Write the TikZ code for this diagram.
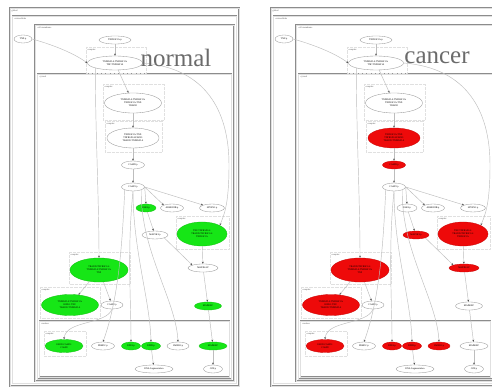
\documentclass[tikz,border=0pt]{standalone}
\usepackage{fontspec}
\setmainfont{Liberation Serif}
\usepackage{tikz}
\usetikzlibrary{arrows.meta,shapes.geometric,calc}
\definecolor{hitgreen}{HTML}{16E616}
\definecolor{hitred}{HTML}{EE0A0A}
\definecolor{frame}{HTML}{8C8C8C}
\definecolor{edgegray}{HTML}{BDBDBD}
\tikzset{
  compbox/.style={draw=frame, line width=0.45pt, double=black!12, double distance=0.5pt},
  cplxbox/.style={draw=black!12, densely dotted, line width=0.3pt},
  complabel/.style={anchor=north west, inner sep=0.5pt,
    font=\fontsize{2.3}{2.7}\selectfont, text=black!70},
  species/.style={
    ellipse, draw=black!40, fill=white, line width=0.35pt,
    minimum width=#1, minimum height=8, inner sep=0pt,
    font=\fontsize{2.4}{2.8}\selectfont, align=center
  },
  species/.default=22,
  link/.style={
    draw=edgegray, line width=0.45pt,
    -{Stealth[length=2.2pt, width=1.8pt, color=black!70]}
  },
  bigtag/.style={font=\fontsize{25}{25}\selectfont, text=black!58, inner sep=0pt},
  up/.style={fill=hitgreen, draw=hitgreen!85!black},
  down/.style={fill=hitred, draw=hitred!85!black},
  % ── per-species state, switched on in each panel ──
  s-fadd/.style={}, s-casp8/.style={}, s-pak2/.style={},
  s-map3k1/.style={}, s-jnkcx/.style={}, s-map2k4/.style={},
  s-mapk8c/.style={}, s-traddcx/.style={}, s-ripk1cx/.style={},
  s-fadd8/.style={}, s-dffa/.style={}, s-dffb/.style={},
  s-lmnb1/.style={}, s-mapk8n/.style={},
}

% one panel of the pathway, #1 = name prefix, #2 = title
\newcommand{\pathpanel}[2]{%
  % compartments
  \draw[compbox] (10,8) rectangle (239,386);
  \node[complabel] at (11,9) {global};
  \draw[compbox] (12.5,16) rectangle (236.5,383.5);
  \node[complabel] at (14,17) {extracellular};
  \draw[compbox] (35,25) rectangle (234,381);
  \node[complabel] at (37,26) {cell membrane};
  \draw[compbox] (37.5,74) rectangle (231.5,379);
  \node[complabel] at (39,75) {cytosol};
  \draw[compbox] (39.5,321) rectangle (229.5,377);
  \node[complabel] at (41,322) {nucleus};
  % complex clusters
  \draw[cplxbox] (86,47) rectangle (146,73);
  \node[complabel] at (87,48) {complex};
  \draw[cplxbox] (103,84) rectangle (164,120);
  \node[complabel] at (104,85) {complex};
  \draw[cplxbox] (105,121) rectangle (162,152);
  \node[complabel] at (106,122) {complex};
  \draw[cplxbox] (176,216) rectangle (229,249);
  \node[complabel] at (177,217) {complex};
  \draw[cplxbox] (69,252) rectangle (130,284);
  \node[complabel] at (70,253) {complex};
  \draw[cplxbox] (40,287) rectangle (100,318);
  \node[complabel] at (41,288) {complex};
  \draw[cplxbox] (44,331) rectangle (86,356);
  \node[complabel] at (45,332) {complex};

  % species
  \node[species=18] (#1tnf) at (23,39) {TNF:p};
  \node[species=32] (#1tnfr) at (115,40) {TNFRSF1A:p};
  \node[species=55, minimum height=14] (#1trimer) at (115,63)
    {TNFRSF1A:TNFRSF1A:\\TNF:TNFRSF1A};
  \node[species=57, minimum height=20] (#1tradd) at (133,103)
    {TNFRSF1A:TNFRSF1A:\\TNFRSF1A:TNF:\\TRADD};
  \node[species=52, minimum height=20, s-fadd] (#1fadd) at (133,138)
    {TNFRSF1A:TNF:\\TNFRSF1A:FADD:\\TRADD:TNFRSF1A};
  \node[species=23, s-casp8] (#1casp8) at (133,165) {CASP8:p};
  \node[species=23] (#1casp3) at (133,187) {CASP3:p};
  \node[species=20, s-pak2] (#1pak2) at (146,208) {PAK2:p};
  \node[species=23] (#1arhgdib) at (172,208) {ARHGDIB:p};
  \node[species=25] (#1sptan1) at (212,208) {SPTAN1:p};
  \node[species=26, s-map3k1] (#1map3k1) at (155,235) {MAP3K1:p};
  \node[species=50, minimum height=24, s-jnkcx] (#1jnkcx) at (202,234)
    {TNF:TNFRSF1A:\\TRADD:TNFRSF1A:\\TNFRSF1A};
  \node[species=30, s-map2k4] (#1map2k4) at (203,268) {MAP2K4:P};
  \node[species=27, s-mapk8c] (#1mapk8c) at (208,306) {MAPK8:P};
  \node[species=58, minimum height=24, s-traddcx] (#1traddcx) at (99,270)
    {TRADD:TNFRSF1A:\\TNFRSF1A:TNFRSF1A:\\TNF};
  \node[species=57, minimum height=21, s-ripk1cx] (#1ripk1cx) at (70,305)
    {TNFRSF1A:TNFRSF1A:\\RIPK1:TNF:\\TRADD:TNFRSF1A};
  \node[species=22] (#1casp2) at (112,305) {CASP2:p};
  \node[species=38, minimum height=13, s-fadd8] (#1fadd8) at (64,346)
    {FADD:CASP8:\\CASP8};
  \node[species=23] (#1prkdc) at (103,346) {PRKDC:p};
  \node[species=19, s-dffa] (#1dffa) at (131,346) {DFFA:p};
  \node[species=19, s-dffb] (#1dffb) at (151,346) {DFFB:p};
  \node[species=22, s-lmnb1] (#1lmnb1) at (178,346) {LMNB1:p};
  \node[species=28, s-mapk8n] (#1mapk8n) at (213,346) {MAPK8:P};
  \node[species=38] (#1dna) at (154,369) {DNA fragmentation};
  \node[species=19] (#1jun) at (213,369) {JUN:p};

  % reactions
  \draw[link] (#1tnf.east) .. controls (50,44) and (72,52) .. (#1trimer.west);
  \draw[link] (#1tnfr) -- (#1trimer);
  \draw[link] (#1trimer) -- (#1tradd);
  \draw[link] (#1trimer.south west) .. controls (95,120) and (99,200) .. (#1traddcx.north);
  \draw[link] (#1trimer.east) .. controls (205,68) and (229,110) .. (229,165)
    .. controls (229,205) and (224,215) .. (#1jnkcx.north east);
  \draw[link] (#1tradd) -- (#1fadd);
  \draw[link] (#1fadd) -- (#1casp8);
  \draw[link] (#1casp8) -- (#1casp3);
  \draw[link] (#1casp3.east) -- (#1pak2.north);
  \draw[link] (#1casp3.east) -- (#1arhgdib.north west);
  \draw[link] (#1casp3.east) -- (#1sptan1.north west);
  \draw[link] (#1casp3.south west) .. controls (122,250) and (118,300) .. (#1prkdc.north);
  \draw[link] (#1casp3.south) .. controls (127,250) and (131,300) .. (#1dffa.north);
  \draw[link] (#1casp3.south) .. controls (133,250) and (150,300) .. (#1dffb.north);
  \draw[link] (#1casp3.south east) .. controls (140,250) and (176,300) .. (#1lmnb1.north);
  \draw[link] (#1pak2) -- (#1map3k1);
  \draw[link] (#1map3k1.south east) -- (#1map2k4.north west);
  \draw[link] (#1jnkcx) -- (#1map2k4);
  \draw[link] (#1map2k4) -- (#1mapk8c);
  \draw[link] (#1mapk8c) -- (#1mapk8n);
  \draw[link] (#1mapk8n) -- (#1jun);
  \draw[link] (#1traddcx) -- (#1ripk1cx);
  \draw[link] (#1traddcx) -- (#1casp2);
  \draw[link] (#1casp2.south) .. controls (106,325) and (66,320) .. (#1fadd8.north);
  \draw[link] (#1dffb) -- (#1dna);

  \node[bigtag] (#1tag) at (176,58) {#2};
}

\begin{document}
\begin{tikzpicture}[x=1pt, y=-1pt]
\useasboundingbox[fill=white] (0,0) rectangle (492,387);
\clip (0,0) rectangle (492,387);

% normal tissue
\begin{scope}[s-pak2/.style=up, s-jnkcx/.style=up, s-mapk8c/.style=up,
  s-traddcx/.style=up, s-ripk1cx/.style=up, s-fadd8/.style=up,
  s-dffa/.style=up, s-dffb/.style=up, s-mapk8n/.style=up]
\pathpanel{n-}{normal}
\end{scope}

% cancer tissue
\begin{scope}[xshift=261pt, s-fadd/.style=down, s-casp8/.style=down,
  s-map3k1/.style=down, s-jnkcx/.style=down, s-map2k4/.style=down,
  s-traddcx/.style=down, s-ripk1cx/.style=down, s-fadd8/.style=down,
  s-dffa/.style=down, s-dffb/.style=down, s-lmnb1/.style=down]
\pathpanel{c-}{cancer}
\end{scope}

\end{tikzpicture}
\end{document}
